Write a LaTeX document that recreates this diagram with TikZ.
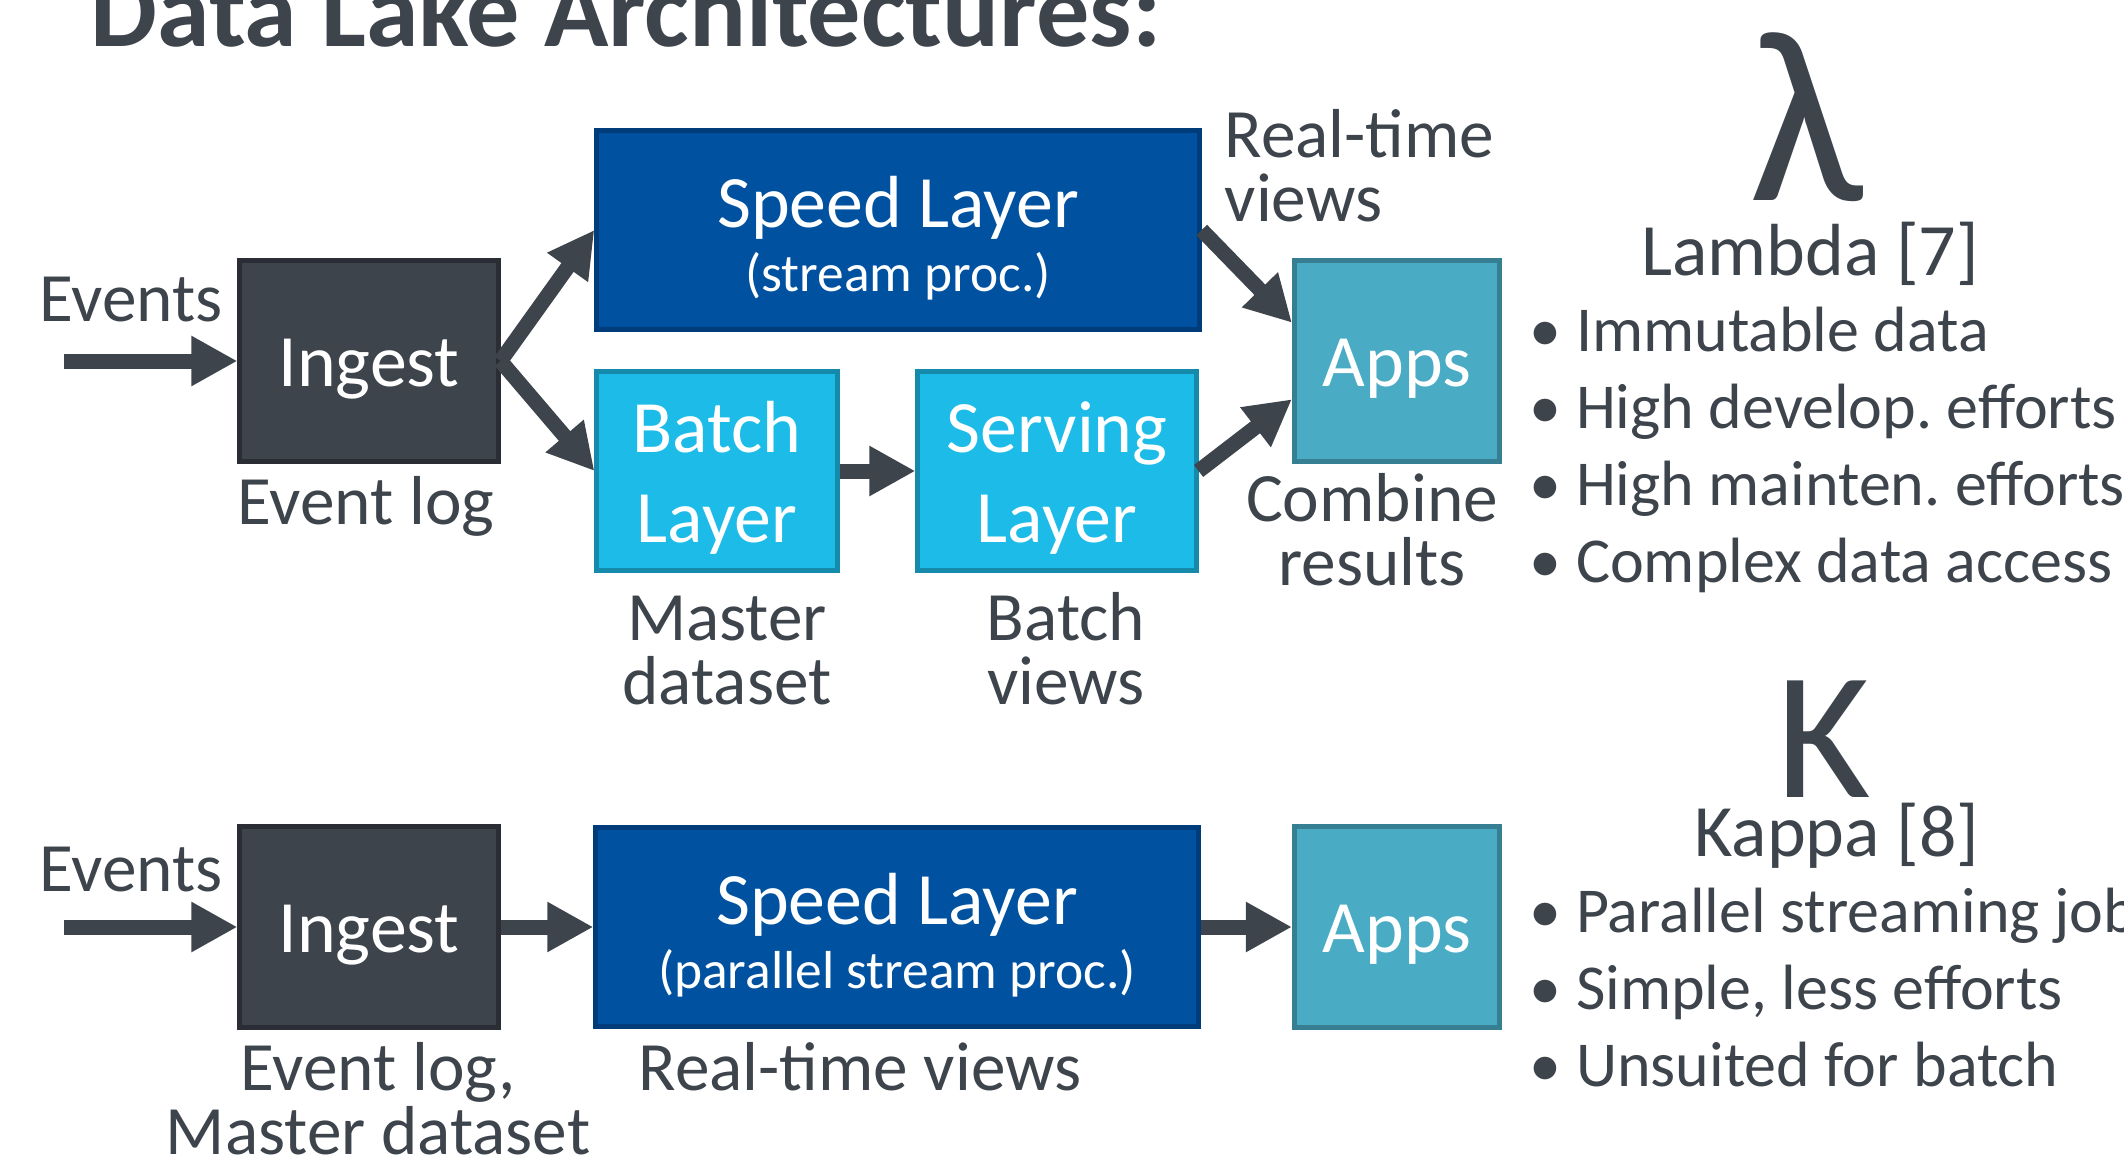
\documentclass[tikz,border=0pt]{standalone}
\usepackage{fontspec}
\setmainfont{Carlito}
\usetikzlibrary{arrows.meta}
\definecolor{inkgray}{HTML}{3E444C}
\definecolor{ingestfill}{HTML}{3E444C}
\definecolor{ingestline}{HTML}{2A2E34}
\definecolor{speedfill}{HTML}{0051A0}
\definecolor{speedline}{HTML}{003C7A}
\definecolor{batchfill}{HTML}{1CBBE8}
\definecolor{batchline}{HTML}{168AAB}
\definecolor{appsfill}{HTML}{4AABC5}
\definecolor{appsline}{HTML}{367E92}
\newcommand\boxfont{\fontsize{21}{25.6}\selectfont}
\newcommand\lblfont{\fontsize{19.7}{18.2}\selectfont}
\newcommand\itemfont{\fontsize{18.2}{18.2}\selectfont}
\newcommand\subfont{\fontsize{15.2}{18}\selectfont}
\frenchspacing

\begin{document}
\begin{tikzpicture}[x=0.01cm,y=-0.01cm,
	layer/.style={draw,line width=0.05cm,minimum height=1.98cm,inner sep=0pt,align=center,text=white,font=\boxfont},
	ingestbox/.style={layer,fill=ingestfill,draw=ingestline,minimum width=2.58cm,minimum height=2cm,text height=0.55cm,text depth=0.05cm},
	speedbox/.style={layer,fill=speedfill,draw=speedline,minimum width=6.02cm,text height=1.3cm,text depth=0.08cm},
	batchbox/.style={layer,fill=batchfill,draw=batchline,text height=1.5cm,text depth=0.08cm},
	appsbox/.style={layer,fill=appsfill,draw=appsline,minimum width=2.05cm,minimum height=2cm,text height=0.55cm,text depth=0.05cm},
	fat/.style={draw=inkgray,line width=0.15cm,-{Triangle[width=0.47cm,length=0.46cm]}},
	lbl/.style={text=inkgray,font=\lblfont,align=center,inner sep=0pt,anchor=base},
	item/.style={text=inkgray,font=\itemfont,inner sep=0pt,anchor=base west}]
	\useasboundingbox (0,0) rectangle (2124,1157);

	\node[text=inkgray,font=\fontsize{30.2}{30}\selectfont\bfseries,inner sep=0pt,anchor=base west] (title) at (90,46) {Data Lake Architectures:};

	% lambda
	\node[ingestbox] (ingA) at (369,361) {Ingest};
	\node[speedbox] (speedA) at (898,230) {Speed Layer\\[-7.4pt]{\subfont (stream proc.)}};
	\node[batchbox,minimum width=2.40cm] (batch) at (717,471) {Batch\\Layer};
	\node[batchbox,minimum width=2.78cm] (serving) at (1057,471) {Serving\\Layer};
	\node[appsbox] (appsA) at (1397,361) {Apps};
	\coordinate (evA) at (64,361);

	\draw[fat] (evA) -- (ingA.west);
	\draw[fat] (ingA.east) -- (speedA.west);
	\draw[fat] (ingA.east) -- (batch.west);
	\draw[fat] (batch.east) -- (serving.west);
	\draw[fat] (speedA.east) -- (appsA.160);
	\draw[fat] (serving.east) -- (appsA.200);

	\node[lbl] (evLblA) at (131,321) {Events};
	\node[lbl] (logA) at (366,524) {Event log};
	\node[lbl] (master) at (727,704) {Master\\dataset};
	\node[lbl] (bviews) at (1066,704) {Batch\\views};
	\node[lbl,align=left,anchor=base west] (rtA) at (1224,221) {Real-time\\views};
	\node[lbl] (combine) at (1372,585) {Combine\\results};

	\node[text=inkgray,font=\fontsize{70}{70}\selectfont,inner sep=0pt,anchor=base] (lam) at (1806,200) {λ};
	\node[lbl,font=\boxfont] (lamName) at (1810,275) {Lambda [7]};
	\foreach \txt [count=\i] in {Immutable data,High develop. efforts,High mainten. efforts,Complex data access}
		\node[item] (lamItem\i) at (1529,274+77*\i) {• \txt};

	% kappa
	\node[ingestbox] (ingB) at (369,927) {Ingest};
	\node[speedbox] (speedB) at (897,927) {Speed Layer\\[-7.4pt]{\subfont (parallel stream proc.)}};
	\node[appsbox] (appsB) at (1397,927) {Apps};
	\coordinate (evB) at (64,927);

	\draw[fat] (evB) -- (ingB.west);
	\draw[fat] (ingB.east) -- (speedB.west);
	\draw[fat] (speedB.east) -- (appsB.west);

	\node[lbl] (evLblB) at (131,891) {Events};
	\node[lbl] (logB) at (378,1154) {Event log,\\Master dataset};
	\node[lbl] (rtB) at (860,1090) {Real-time views};

	\node[text=inkgray,font=\fontsize{51.7}{52}\selectfont,inner sep=0pt,anchor=base] (kap) at (1824,797) {Κ};
	\node[lbl,font=\boxfont] (kapName) at (1837,856) {Kappa [8]};
	\foreach \txt [count=\i] in {Parallel streaming jobs,{Simple, less efforts},Unsuited for batch}
		\node[item] (kapItem\i) at (1529,855+77*\i) {• \txt};
\end{tikzpicture}
\end{document}
